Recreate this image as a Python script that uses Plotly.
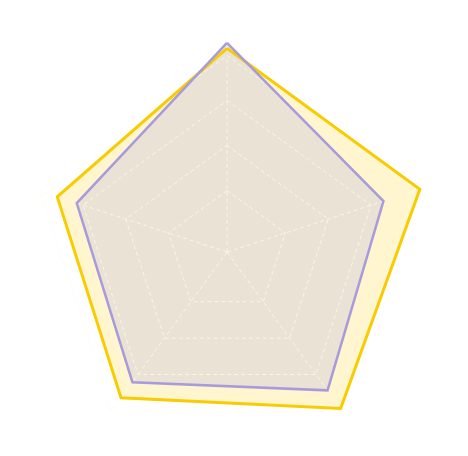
import plotly.graph_objects as go

# radar axes (labels hidden in the picture)
categories = ["A", "B", "C", "D", "E"]
series_yellow = [103.2, 102.8, 98.6, 92.8, 92.0]
series_purple = [105.6, 85.8, 88.7, 84.2, 82.9]
grid_values = [40, 60, 80, 100]
radial_range = [12.7, 106.9]

closed = categories + [categories[0]]

fig = go.Figure()

# filled areas first
fig.add_trace(go.Scatterpolar(
    r=series_yellow + [series_yellow[0]], theta=closed,
    fill="toself", fillcolor="rgba(255,232,140,0.42)",
    mode="lines", line=dict(width=0), hoverinfo="skip"
))
fig.add_trace(go.Scatterpolar(
    r=series_purple + [series_purple[0]], theta=closed,
    fill="toself", fillcolor="rgba(171,172,228,0.25)",
    mode="lines", line=dict(width=0), hoverinfo="skip"
))

# dashed grid drawn over the fills
grid_color = "rgba(255,250,232,0.8)"
for v in grid_values:
    fig.add_trace(go.Scatterpolar(
        r=[v] * len(closed), theta=closed, mode="lines",
        line=dict(color=grid_color, width=1, dash="4px,3px"),
        hoverinfo="skip"
    ))
spoke_r, spoke_t = [], []
for c in categories:
    spoke_r += [radial_range[0], grid_values[-1], None]
    spoke_t += [c, c, c]
fig.add_trace(go.Scatterpolar(
    r=spoke_r, theta=spoke_t, mode="lines",
    line=dict(color=grid_color, width=1, dash="4px,3px"),
    hoverinfo="skip"
))

# outlines on top
fig.add_trace(go.Scatterpolar(
    r=series_yellow + [series_yellow[0]], theta=closed, mode="lines",
    line=dict(color="#F8CC00", width=3), name="series 1"
))
fig.add_trace(go.Scatterpolar(
    r=series_purple + [series_purple[0]], theta=closed, mode="lines",
    line=dict(color="#A89BDB", width=2.5), name="series 2"
))

fig.update_layout(
    width=468, height=456,
    margin=dict(l=0, r=0, t=0, b=0),
    paper_bgcolor="white",
    showlegend=False,
    polar=dict(
        domain=dict(x=[7 / 468, 431 / 468], y=[0, 424 / 456]),
        bgcolor="white",
        gridshape="linear",
        angularaxis=dict(
            categoryorder="array", categoryarray=categories,
            direction="clockwise", rotation=90,
            showgrid=False, showline=False, showticklabels=False, ticks=""
        ),
        radialaxis=dict(
            range=radial_range, showgrid=False, showline=False,
            showticklabels=False, ticks=""
        ),
    ),
)

fig.write_html("out.html")
